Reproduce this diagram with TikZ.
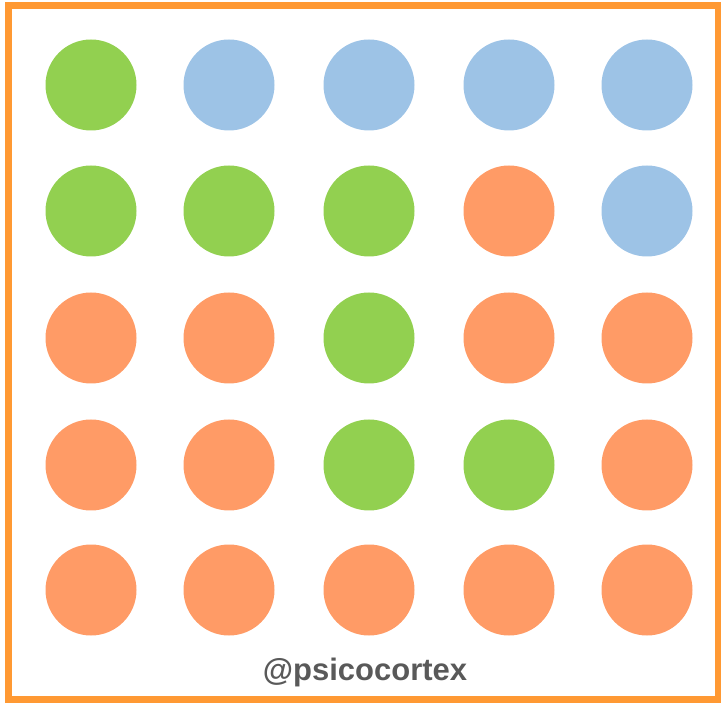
\documentclass[tikz,border=0pt]{standalone}
\usepackage{fontspec}
\setmainfont{Liberation Sans}
\definecolor{cgreen}{HTML}{92D050}
\definecolor{cblue}{HTML}{9DC3E6}
\definecolor{corange}{HTML}{FF9B66}
\definecolor{cframe}{HTML}{FF9933}
\definecolor{ctext}{HTML}{595959}
\begin{document}
\begin{tikzpicture}[x=1pt,y=-1pt,
  dot/.style={circle,minimum size=91pt,inner sep=0pt,draw=none},
  G/.style={dot,fill=cgreen},
  B/.style={dot,fill=cblue},
  O/.style={dot,fill=corange}]
\useasboundingbox (0,0) rectangle (721,703);
\draw[cframe,line width=7pt] (8,6) rectangle (718,699);
\def\xa{91}\def\xb{229}\def\xc{369}\def\xd{509}\def\xe{647}
\foreach \r/\y/\ca/\cb/\cc/\cd/\ce in {1/85/G/B/B/B/B,2/211/G/G/G/O/B,3/338/O/O/G/O/O,4/465/O/O/G/G/O,5/590/O/O/O/O/O}{
  \node[\ca] (n\r1) at (\xa,\y) {};
  \node[\cb] (n\r2) at (\xb,\y) {};
  \node[\cc] (n\r3) at (\xc,\y) {};
  \node[\cd] (n\r4) at (\xd,\y) {};
  \node[\ce] (n\r5) at (\xe,\y) {};
}
\node[text=ctext,font=\fontsize{31}{36}\selectfont\bfseries,inner sep=0pt] (lbl) at (365,672) {@psicocortex};
\end{tikzpicture}
\end{document}
